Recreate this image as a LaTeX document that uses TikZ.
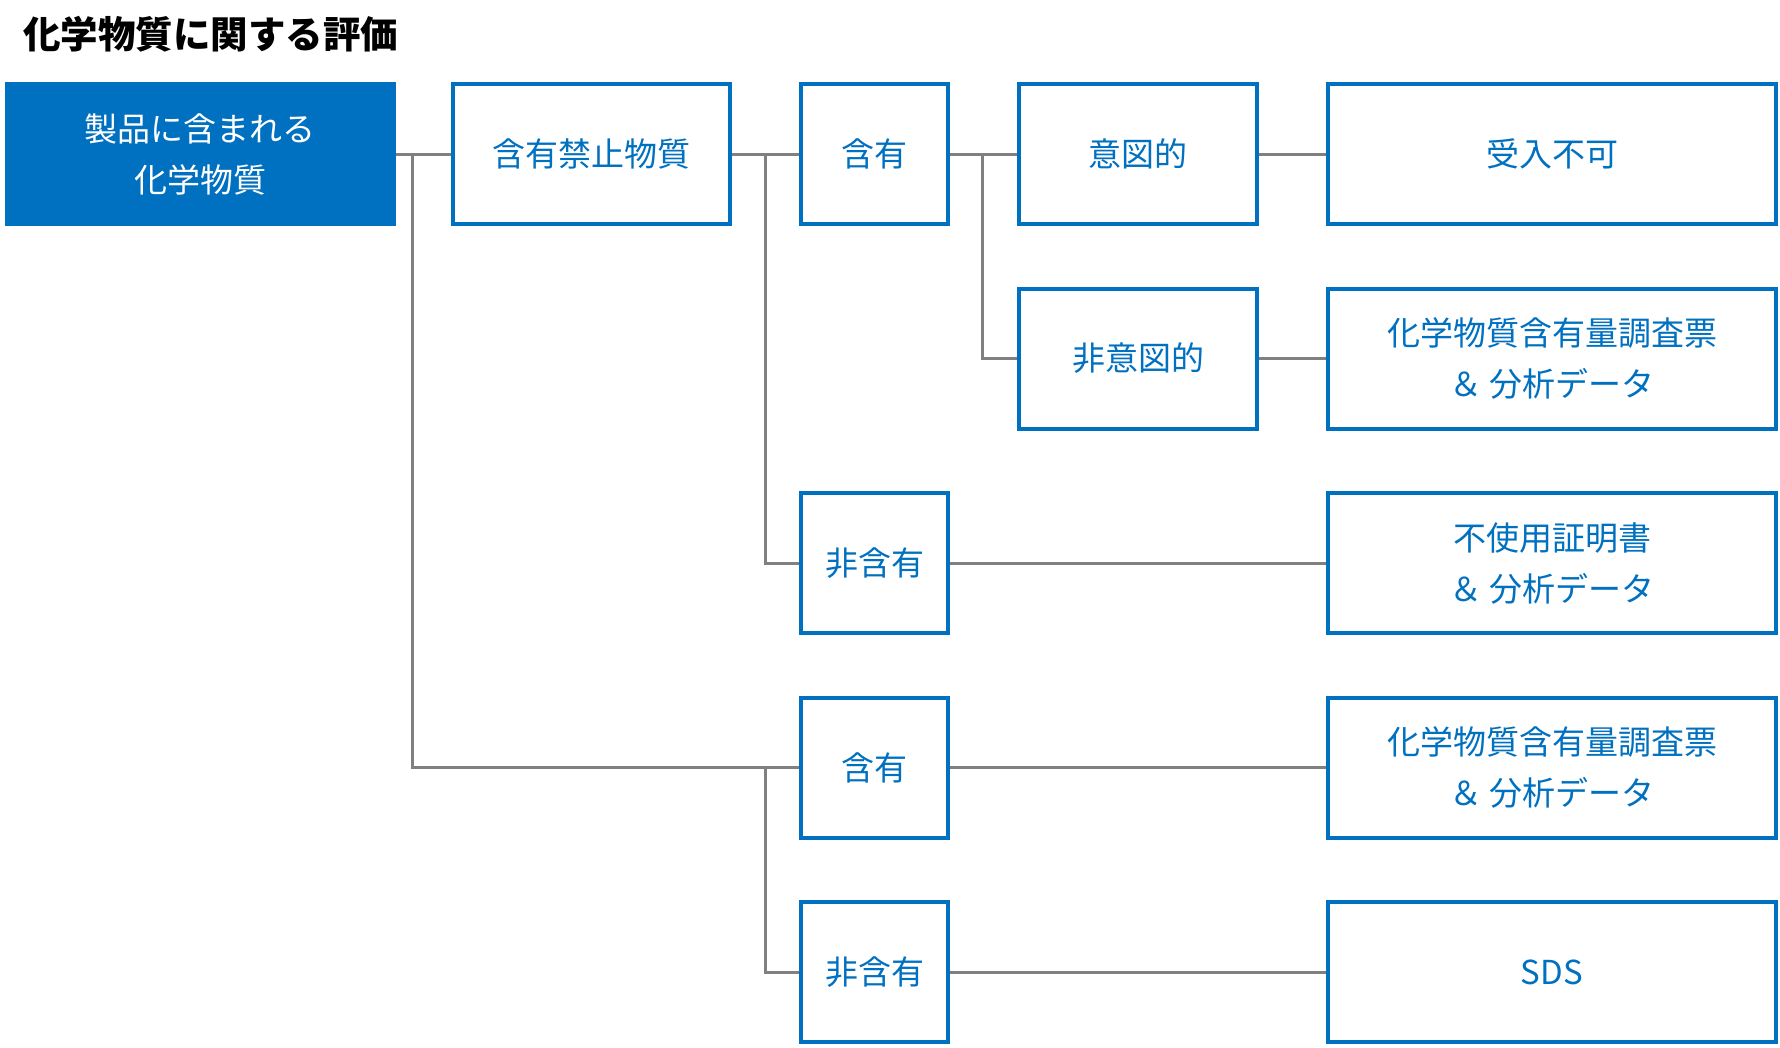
\documentclass[tikz,border=0pt]{standalone}
\usepackage{fontspec}
\setmainfont{Noto Sans CJK JP}
\usepackage{tikz}
\usetikzlibrary{positioning}
\definecolor{mainblue}{HTML}{0070C0}
\definecolor{linegray}{HTML}{808080}
\tikzstyle{block} = [draw=mainblue, line width=4pt, fill=white, rectangle, text=mainblue, minimum height=140pt, inner sep=0pt, align=center, font=\fontsize{33}{51}\selectfont]
\tikzstyle{start} = [fill=mainblue, rectangle, text=white, minimum width=391pt, minimum height=144pt, inner sep=0pt, align=center, font=\fontsize{33}{51}\selectfont]
\tikzstyle{link} = [draw=linegray, line width=3pt]

\begin{document}
\begin{tikzpicture}[node distance=204.5pt]
  \useasboundingbox (0,0) rectangle (1780pt,-1047pt);
  \node[anchor=west, inner sep=0pt, font=\fontsize{37.5}{45}\selectfont\bfseries] (title) at (23pt,-34pt) {化学物質に関する評価};
  \node[start] (product) at (200pt,-154pt) {製品に含まれる\\化学物質};
  \node[block, minimum width=277pt, right of=product, node distance=391.5pt] (banned) {含有禁止物質};
  \node[block, minimum width=147pt, right of=banned, node distance=283pt] (contain) {含有};
  \node[block, minimum width=238pt, right of=contain, node distance=263.5pt] (intent) {意図的};
  \node[block, minimum width=448pt, right of=intent, node distance=414pt] (reject) {受入不可};
  \node[block, minimum width=238pt, below of=intent] (unintent) {非意図的};
  \node[block, minimum width=448pt, below of=reject] (survey) {化学物質含有量調査票\\＆ 分析データ};
  \node[block, minimum width=147pt, below of=contain, node distance=409pt] (free) {非含有};
  \node[block, minimum width=448pt, below of=survey] (cert) {不使用証明書\\＆ 分析データ};
  \node[block, minimum width=147pt, below of=free] (othercontain) {含有};
  \node[block, minimum width=448pt, below of=cert] (othersurvey) {化学物質含有量調査票\\＆ 分析データ};
  \node[block, minimum width=147pt, below of=othercontain] (otherfree) {非含有};
  \node[block, minimum width=448pt, below of=othersurvey] (sds) {SDS};
  % branch points
  \coordinate[right of=product, node distance=212pt] (productjoint);
  \coordinate[right of=banned, node distance=173.5pt] (bannedjoint);
  \coordinate[right of=contain, node distance=107.5pt] (containjoint);
  \draw[link] (product) -- (banned);
  \draw[link] (productjoint) |- (othercontain.west);
  \draw[link] (banned) -- (contain);
  \draw[link] (bannedjoint) |- (free.west);
  \draw[link] (contain) -- (intent);
  \draw[link] (containjoint) |- (unintent.west);
  \draw[link] (intent) -- (reject);
  \draw[link] (unintent) -- (survey);
  \draw[link] (free) -- (cert);
  \draw[link] (othercontain) -- (othersurvey);
  \draw[link] (bannedjoint |- othercontain) |- (otherfree.west);
  \draw[link] (otherfree) -- (sds);
\end{tikzpicture}
\end{document}
